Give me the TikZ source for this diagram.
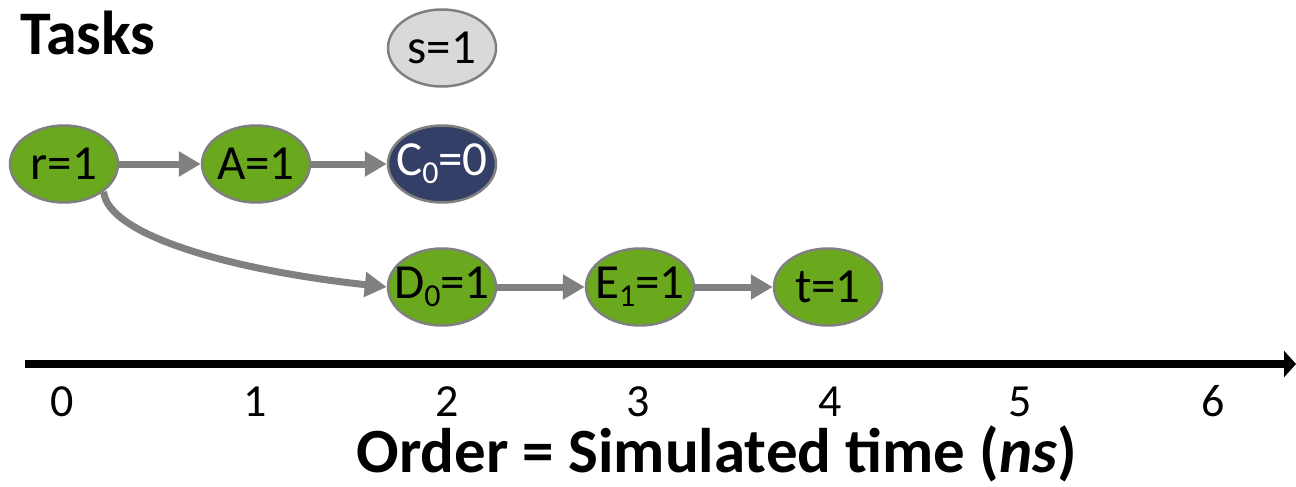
\documentclass[tikz,border=0pt]{standalone}
\usepackage{fontspec}
\setmainfont{Carlito}
\usetikzlibrary{arrows.meta,shapes.geometric}
\definecolor{taskgreen}{RGB}{106,168,30}
\definecolor{tasknavy}{RGB}{51,63,102}
\definecolor{taskgray}{RGB}{217,217,217}
\definecolor{edgegray}{RGB}{128,128,128}
\newcommand\mysub[1]{\raisebox{-0.35ex}{\fontsize{32}{32}\selectfont #1}}
\newcommand\lbl[1]{\makebox[0pt]{#1}}
\tikzset{
  task/.style={ellipse, draw=edgegray, line width=2.5pt, minimum width=108pt, minimum height=77pt, inner sep=0pt, fill=taskgreen, font=\fontsize{49}{49}\selectfont},
  done/.style={task, fill=tasknavy, text=white},
  idle/.style={task, fill=taskgray},
  dep/.style={draw=edgegray, line width=7pt, -{Triangle[length=22pt,width=24pt]}},
  axislbl/.style={anchor=base, inner sep=0pt, font=\fontsize{46}{46}\selectfont},
}
\begin{document}
\begin{tikzpicture}[x=1pt,y=-1pt]
\useasboundingbox (0,0) rectangle (1296,487);
\node[anchor=base west, inner sep=0pt, font=\fontsize{62}{62}\selectfont\bfseries] (title) at (20,55) {Tasks};
\node[idle] (s) at (442,48) {\lbl{s=1}};
\node[task] (r) at (64,164) {\lbl{r=1}};
\node[task] (A) at (256,164) {\lbl{A=1}};
\node[done] (C) at (442,164) {\lbl{C\mysub{0}=0}};
\node[task] (D) at (442,287) {\lbl{D\mysub{0}=1}};
\node[task] (E) at (640,287) {\lbl{E\mysub{1}=1}};
\node[task] (t) at (828,287) {\lbl{t=1}};
\draw[dep] (r) -- (A);
\draw[dep] (A) -- (C);
\draw[dep] (D) -- (E);
\draw[dep] (E) -- (t);
\draw[dep] (r.-35) .. controls (108,235) and (230,270) .. (D.west);
\coordinate (ax0) at (25,364);
\coordinate (ax1) at (1296,364);
\draw[line width=7.5pt, -{Triangle[length=12pt,width=26pt]}] (ax0) -- (ax1);
\foreach \i/\x in {0/62,1/255,2/447,3/638,4/830,5/1020,6/1213}
  \node[axislbl] (l\i) at (\x,416) {\i};
\node[anchor=base, inner sep=0pt, font=\fontsize{63}{63}\selectfont\bfseries] (xlabel) at (717,472) {Order = Simulated time (\textit{ns})};
\end{tikzpicture}
\end{document}
